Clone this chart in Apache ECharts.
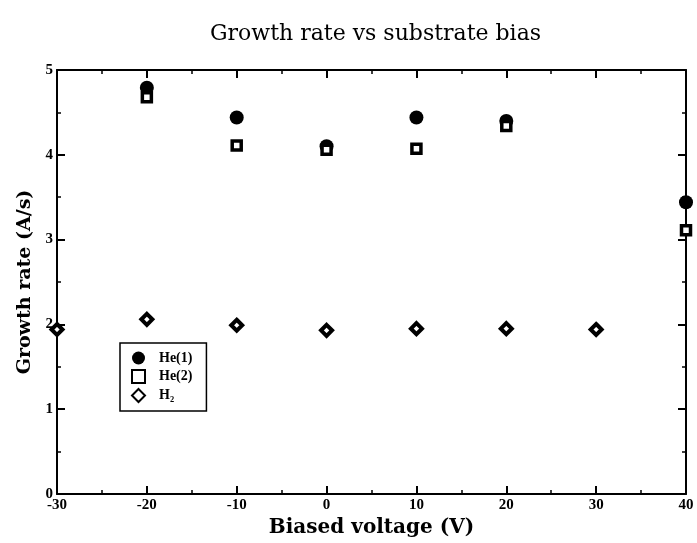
<!DOCTYPE html>
<html>
<head>
<meta charset="utf-8">
<script src="https://cdn.jsdelivr.net/npm/echarts@6/dist/echarts.min.js"></script>
<style>
  html, body { margin: 0; padding: 0; background: #fff; }
  #chart { width: 697px; height: 543px; }
</style>
</head>
<body>
<div id="chart"></div>
<script>
// Biased voltage (V) at which each run was made
const voltageHe = [-20, -10, 0, 10, 20, 40];
const voltageH2 = [-30, -20, -10, 0, 10, 20, 30];

// Growth rate (A/s)
const rateHe1 = [4.79, 4.44, 4.10, 4.44, 4.40, 3.44];
const rateHe2 = [4.68, 4.11, 4.06, 4.07, 4.34, 3.11];
const rateH2 = [1.94, 2.06, 1.99, 1.93, 1.95, 1.95, 1.94];

const seriesNames = ['He(1)', 'He(2)', 'H₂'];

const pairs = (xs, ys) => xs.map((x, i) => [x, ys[i]]);

const serif = '"Liberation Serif", "DejaVu Serif", serif';
const wideSerif = '"DejaVu Serif", "Liberation Serif", serif';

const axisCommon = {
  axisLine: { onZero: false, lineStyle: { color: '#000', width: 2 } },
  axisTick: { inside: true, length: 8, lineStyle: { color: '#000', width: 2 } },
  minorTick: { show: true, splitNumber: 2, length: 4, lineStyle: { color: '#000', width: 1.5 } },
  splitLine: { show: false }
};

const chart = echarts.init(document.getElementById('chart'));
chart.setOption({
  animation: false,
  backgroundColor: '#fff',
  title: {
    text: 'Growth rate vs substrate bias',
    left: 205,
    top: 18,
    textStyle: { fontFamily: wideSerif, fontSize: 22, fontWeight: 'normal', color: '#000' }
  },
  grid: { left: 57, right: 11, top: 70, bottom: 48 },
  legend: {
    orient: 'vertical',
    left: 120,
    top: 343,
    itemWidth: 13,
    itemHeight: 13,
    itemGap: 4,
    padding: [8, 14, 8, 11],
    borderColor: '#000',
    borderWidth: 1.5,
    textStyle: { fontFamily: serif, fontSize: 14, fontWeight: 'bold', color: '#000', padding: [0, 0, 0, 9] },
    data: seriesNames
  },
  xAxis: [
    Object.assign({
      type: 'value', min: -30, max: 40, interval: 10, position: 'bottom',
      name: 'Biased voltage (V)', nameLocation: 'middle', nameGap: 24,
      nameTextStyle: { fontFamily: wideSerif, fontSize: 20, fontWeight: 'bold', color: '#000' },
      axisLabel: { margin: 4, fontFamily: serif, fontSize: 15, fontWeight: 'bold', color: '#000' }
    }, axisCommon),
    Object.assign({
      type: 'value', min: -30, max: 40, interval: 10, position: 'top',
      axisLabel: { show: false }
    }, axisCommon)
  ],
  yAxis: [
    Object.assign({
      type: 'value', min: 0, max: 5, interval: 1, position: 'left',
      name: 'Growth rate (A/s)', nameLocation: 'middle', nameGap: 22,
      nameTextStyle: { fontFamily: wideSerif, fontSize: 19, fontWeight: 'bold', color: '#000' },
      axisLabel: { margin: 4, fontFamily: serif, fontSize: 15, fontWeight: 'bold', color: '#000' }
    }, axisCommon),
    Object.assign({
      type: 'value', min: 0, max: 5, interval: 1, position: 'right',
      axisLabel: { show: false }
    }, axisCommon)
  ],
  series: [
    {
      name: seriesNames[0], type: 'scatter', data: pairs(voltageHe, rateHe1),
      symbol: 'circle', symbolSize: 14,
      itemStyle: { color: '#000', opacity: 1 }, z: 3
    },
    {
      name: seriesNames[1], type: 'scatter', data: pairs(voltageHe, rateHe2),
      symbol: 'rect', symbolSize: 9,
      itemStyle: { color: '#fff', borderColor: '#000', borderWidth: 3.5, opacity: 1 }, z: 4
    },
    {
      name: seriesNames[2], type: 'scatter', data: pairs(voltageH2, rateH2),
      symbol: 'diamond', symbolSize: 11,
      itemStyle: { color: '#fff', borderColor: '#000', borderWidth: 4, opacity: 1 }, z: 4
    }
  ]
});
</script>
</body>
</html>
